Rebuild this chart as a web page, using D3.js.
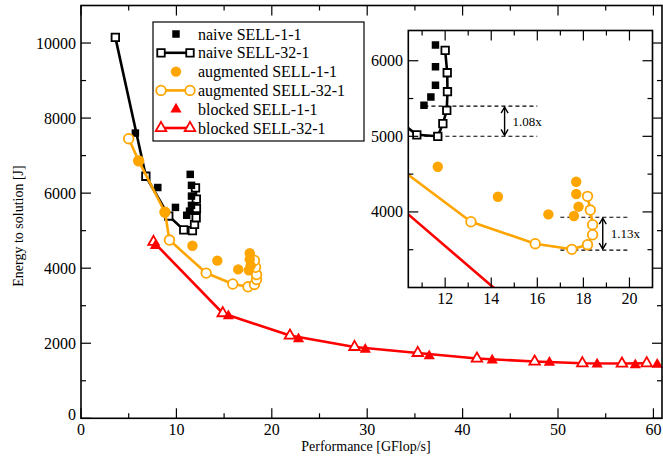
<!DOCTYPE html>
<html><head><meta charset="utf-8">
<script src="https://cdn.jsdelivr.net/npm/d3@7"></script>
<style>body{margin:0;background:#fff}svg{display:block;font-family:"Liberation Serif","Times New Roman",serif}</style>
</head><body><svg id="c" width="663" height="461"></svg>
<script>
// ---- data (x = GFlop/s, y = Joule) ----
const naive11 = [[5.7,7600],[8.05,6150],[9.9,5620],[11.08,5410],[11.38,5520],[11.58,5675],[11.58,5921],[11.58,6208],[11.45,6500]];
const naive32 = [[3.6,10150],[6.8,6450],[9.2,5390],[10.77,5020],[11.68,5000],[11.9,5167],[12.07,5344],[12.1,5590],[12.09,5841],[12.0,6138]];
const aug11 = [[6.05,6860],[8.8,5490],[11.68,4598],[14.29,4201],[16.48,3968],[17.59,3946],[17.79,4069],[17.69,4237],[17.69,4399]];
const aug32 = [[5.0,7450],[6.05,6860],[8.8,5490],[9.27,4750],[13.12,3870],[15.91,3579],[17.5,3505],[18.18,3566],[18.4,3698],[18.4,3831],[18.3,4025],[18.18,4206]];
const blocked11 = [[7.8,4600],[15.45,2728],[22.8,2115],[29.8,1832],[36.5,1661],[43.1,1547],[49.1,1485],[54.1,1440],[58.1,1421],[60.4,1432]];
const blocked32 = [[7.6,4700],[14.86,2800],[21.9,2205],[28.67,1901],[35.3,1741],[41.5,1592],[47.55,1512],[52.55,1467],[56.7,1459],[59.3,1467]];
const legendLabels = ["naive SELL-1-1","naive SELL-32-1","augmented SELL-1-1","augmented SELL-32-1","blocked SELL-1-1","blocked SELL-32-1"];
const xTicksMain = [0,10,20,30,40,50,60];
const yTicksMain = [0,2000,4000,6000,8000,10000];
const xTicksInset = [12,14,16,18,20];
const yTicksInset = [4000,5000,6000];
const xTitle = "Performance [GFlop/s]";
const yTitle = "Energy to solution [J]";
// inset annotations: [x1, x2, yLow, yHigh, arrowX, label]
const annNaive = [11.1, 16.0, 5000, 5400, 14.58, "1.08x"];
const annAug = [17.0, 20.0, 3495, 3930, 18.84, "1.13x"];

const svg = d3.select("#c");
const ORANGE = "#ffa500", RED = "#ff0000";

const series = [
  {data: naive32, color:"#000", shape:d3.symbolSquare, open:true, line:true, size:56},
  {data: naive11, color:"#000", shape:d3.symbolSquare, open:false, line:false, size:56},
  {data: aug32, color:ORANGE, shape:d3.symbolCircle, open:true, line:true, size:72},
  {data: aug11, color:ORANGE, shape:d3.symbolCircle, open:false, line:false, size:85},
  {data: blocked32, color:RED, shape:d3.symbolTriangle, open:true, line:true, size:48},
  {data: blocked11, color:RED, shape:d3.symbolTriangle, open:false, line:false, size:55}
];

function drawSeries(g, sx, sy) {
  series.forEach(s => {
    if (s.line) {
      g.append("path").datum(s.data)
        .attr("d", d3.line().x(d=>sx(d[0])).y(d=>sy(d[1])))
        .attr("fill","none").attr("stroke", s.color).attr("stroke-width", 2.6)
        .attr("stroke-linejoin","round");
    }
    g.selectAll(null).data(s.data).enter().append("path")
      .attr("transform", d=>`translate(${sx(d[0])},${sy(d[1])})`)
      .attr("d", d3.symbol().type(s.shape).size(s.size))
      .attr("fill", s.open ? "#fff" : s.color)
      .attr("stroke", s.open ? s.color : "none")
      .attr("stroke-width", 1.8);
  });
}

function frameTicks(g, sx, sy, xMaj, xMin, yMaj, yMin) {
  const [x0,x1] = sx.range(), [y0,y1] = sy.range();
  const t = g.append("g").attr("stroke","#000").attr("stroke-width",1.2);
  xMaj.forEach(v=>{ const x=sx(v);
    t.append("line").attr("x1",x).attr("x2",x).attr("y1",y0).attr("y2",y0-10);
    t.append("line").attr("x1",x).attr("x2",x).attr("y1",y1).attr("y2",y1+10);});
  xMin.forEach(v=>{ const x=sx(v);
    t.append("line").attr("x1",x).attr("x2",x).attr("y1",y0).attr("y2",y0-5);
    t.append("line").attr("x1",x).attr("x2",x).attr("y1",y1).attr("y2",y1+5);});
  yMaj.forEach(v=>{ const y=sy(v);
    t.append("line").attr("x1",x0).attr("x2",x0+10).attr("y1",y).attr("y2",y);
    t.append("line").attr("x1",x1).attr("x2",x1-10).attr("y1",y).attr("y2",y);});
  yMin.forEach(v=>{ const y=sy(v);
    t.append("line").attr("x1",x0).attr("x2",x0+5).attr("y1",y).attr("y2",y);
    t.append("line").attr("x1",x1).attr("x2",x1-5).attr("y1",y).attr("y2",y);});
  g.append("rect").attr("x",x0).attr("y",y1).attr("width",x1-x0).attr("height",y0-y1)
    .attr("fill","none").attr("stroke","#000").attr("stroke-width",1.6);
}

// ---- main chart ----
const x = d3.scaleLinear().domain([0,60.9]).range([81,662]);
const y = d3.scaleLinear().domain([0,11000]).range([418.3,5.5]);
const main = svg.append("g");
drawSeries(main, x, y);
frameTicks(main, x, y, xTicksMain, d3.range(5,61,10), yTicksMain, d3.range(1000,11000,2000));
main.selectAll(null).data(xTicksMain).enter().append("text")
  .attr("x", d=>x(d)).attr("y", 435).attr("text-anchor","middle").attr("font-size",16).text(d=>d);
main.selectAll(null).data(yTicksMain).enter().append("text")
  .attr("x", 76).attr("y", d=> d===0 ? y(d)+2 : y(d)+5.5).attr("text-anchor","end").attr("font-size",16).text(d=>d);
main.append("text").attr("x",366).attr("y",451).attr("text-anchor","middle").attr("font-size",14).text(xTitle);
main.append("text").attr("transform","translate(23,226) rotate(-90)").attr("text-anchor","middle").attr("font-size",14).text(yTitle);

// ---- legend ----
const lg = svg.append("g");
lg.append("rect").attr("x",153).attr("y",22).attr("width",211).attr("height",119)
  .attr("fill","#fff").attr("stroke","#000").attr("stroke-width",1.2);
const legOrder = [series[1],series[0],series[3],series[2],series[5],series[4]];
legOrder.forEach((s,i)=>{
  const cy = 34 + i*18.8;
  if (s.line) {
    lg.append("line").attr("x1",161).attr("x2",190).attr("y1",cy).attr("y2",cy).attr("stroke",s.color).attr("stroke-width",2.6);
    [161,190].forEach(px=>lg.append("path").attr("transform",`translate(${px},${cy})`)
      .attr("d", d3.symbol().type(s.shape).size(s.size)).attr("fill","#fff").attr("stroke",s.color).attr("stroke-width",1.8));
  } else {
    lg.append("path").attr("transform",`translate(176,${cy})`)
      .attr("d", d3.symbol().type(s.shape).size(s.size)).attr("fill",s.color);
  }
  lg.append("text").attr("x",198).attr("y",cy+5.5).attr("font-size",16).text(legendLabels[i]);
});

// ---- inset ----
const ix = d3.scaleLinear().domain([10.4,21]).range([408.3,652.5]);
const iy = d3.scaleLinear().domain([3000,6400]).range([287.5,30.5]);
const ins = svg.append("g");
ins.append("rect").attr("x",408.3).attr("y",30.5).attr("width",244.2).attr("height",257).attr("fill","#fff");
svg.append("defs").append("clipPath").attr("id","ic").append("rect")
  .attr("x",408.3).attr("y",30.5).attr("width",244.2).attr("height",257);
const insData = ins.append("g").attr("clip-path","url(#ic)");
// annotations
function annotate(a){
  const [xa,xb,ylo,yhi,xarr,lab]=a;
  [ylo,yhi].forEach(v=>insData.append("line").attr("x1",ix(xa)).attr("x2",ix(xb)).attr("y1",iy(v)).attr("y2",iy(v))
    .attr("stroke","#000").attr("stroke-width",1.1).attr("stroke-dasharray","4,3"));
  const ax=ix(xarr), t=iy(yhi), b=iy(ylo);
  const ag = insData.append("g").attr("stroke","#000").attr("stroke-width",1.4).attr("fill","none");
  ag.append("line").attr("x1",ax).attr("x2",ax).attr("y1",t+1).attr("y2",b-1);
  ag.append("path").attr("d",`M${ax-3.5},${t+7}L${ax},${t+1}L${ax+3.5},${t+7}`);
  ag.append("path").attr("d",`M${ax-3.5},${b-7}L${ax},${b-1}L${ax+3.5},${b-7}`);
  insData.append("text").attr("x",ax+8).attr("y",(t+b)/2+4.5).attr("font-size",13).text(lab);
}
annotate(annNaive);
annotate(annAug);
drawSeries(insData, ix, iy);
frameTicks(ins, ix, iy, xTicksInset, [11,13,15,17,19], yTicksInset, [3500,4500,5500]);
ins.selectAll(null).data(xTicksInset).enter().append("text")
  .attr("x", d=>ix(d)).attr("y", 304).attr("text-anchor","middle").attr("font-size",16).text(d=>d);
ins.selectAll(null).data(yTicksInset).enter().append("text")
  .attr("x", 403).attr("y", d=>iy(d)+5.5).attr("text-anchor","end").attr("font-size",16).text(d=>d);
</script></body></html>
